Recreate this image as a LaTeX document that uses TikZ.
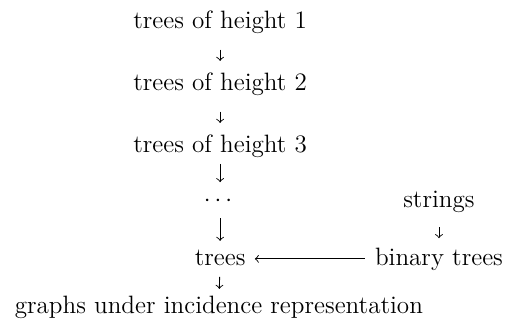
\documentclass[tikz,border=0pt]{standalone}
\usepackage{amsmath}
\usepackage{tikz}
\usetikzlibrary{arrows}

\begin{document}
\begin{tikzpicture}
\tikzstyle{every node}=[inner sep=0pt, font=\fontsize{11.3pt}{13.5pt}\selectfont, text height=7.9pt, text depth=2.3pt, anchor=base]
\tikzstyle{shortarr}=[->, >=to, thin, shorten <=7.2pt, shorten >=5pt]
\tikzstyle{longarr}=[->, >=to, thin, shorten <=2.8pt, shorten >=2.8pt]
\useasboundingbox (0,0) rectangle (8,-5.266);
\node (h1) at (3.48,-0.443) {trees of height 1};
\node (h2) at (3.48,-1.423) {trees of height 2};
\node (h3) at (3.48,-2.404) {trees of height 3};
\node (dots) at (3.48,-3.263) {$\cdots$};
\node (trees) at (3.48,-4.191) {trees};
\node (graphs) at (3.46,-4.95) {graphs under incidence representation};
\node (strings) at (6.94,-3.274) {strings};
\node (binary) at (6.94,-4.191) {binary trees};
\draw[shortarr] (h1) -- (h2);
\draw[shortarr] (h2) -- (h3);
\draw[longarr] (h3) -- (dots);
\draw[longarr] (dots) -- (trees);
\draw[longarr] (trees) -- (graphs);
\draw[shortarr, shorten <=6.5pt, shorten >=4pt] (strings) -- (binary);
\draw[->, >=to, thin, shorten <=4.5pt, shorten >=4pt] (binary) -- (trees);
\end{tikzpicture}
\end{document}
